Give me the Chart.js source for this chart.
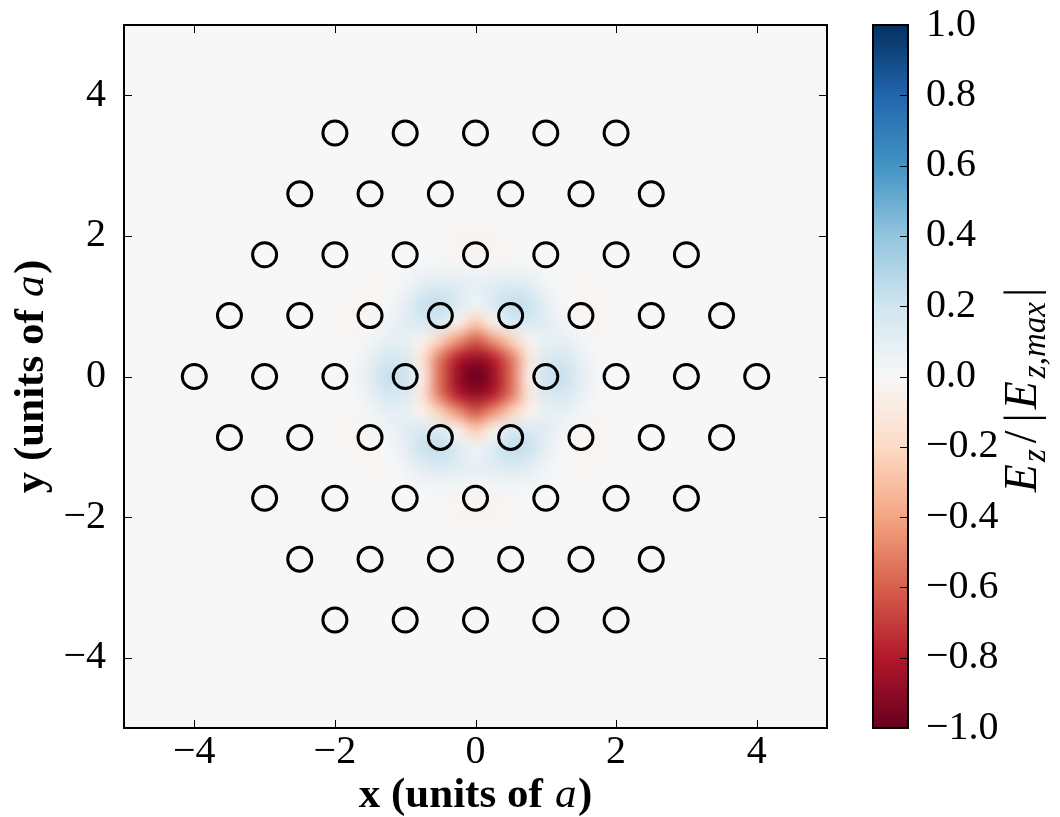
<!DOCTYPE html>
<html>
<head>
<meta charset="utf-8">
<script src="https://cdn.jsdelivr.net/npm/chart.js@4.4.0/dist/chart.umd.min.js"></script>
<style>
  html, body { margin: 0; padding: 0; background: #fff; }
  #wrap { position: relative; width: 1060px; height: 817px; }
  canvas { position: absolute; left: 0; top: 0; }
</style>
</head>
<body>
<div id="wrap">
  <canvas id="field" width="1060" height="817"></canvas>
  <canvas id="cbar" width="1060" height="817"></canvas>
</div>
<script>
// tick labels
const xTicks = [-4, -2, 0, 2, 4];
const yTicks = [-4, -2, 0, 2, 4];
const cbTicks = [-1, -0.8, -0.6, -0.4, -0.2, 0, 0.2, 0.4, 0.6, 0.8, 1];

// air holes of the triangular lattice (one row per y), no hole at the centre (defect)
const holeRowY = [3.464, 2.598, 1.732, 0.866, 0, -0.866, -1.732, -2.598, -3.464];
const holeRowX = [
  [-2, -1, 0, 1, 2],
  [-2.5, -1.5, -0.5, 0.5, 1.5, 2.5],
  [-3, -2, -1, 0, 1, 2, 3],
  [-3.5, -2.5, -1.5, -0.5, 0.5, 1.5, 2.5, 3.5],
  [-4, -3, -2, -1, 1, 2, 3, 4],
  [-3.5, -2.5, -1.5, -0.5, 0.5, 1.5, 2.5, 3.5],
  [-3, -2, -1, 0, 1, 2, 3],
  [-2.5, -1.5, -0.5, 0.5, 1.5, 2.5],
  [-2, -1, 0, 1, 2]
];

// Ez / |Ez,max| sampled every 0.25a, rows from y=2.5 down to y=-2.5
const fieldX = [-2.5, -2.25, -2, -1.75, -1.5, -1.25, -1, -0.75, -0.5, -0.25, 0, 0.25, 0.5, 0.75, 1, 1.25, 1.5, 1.75, 2, 2.25, 2.5];
const fieldY = [2.5, 2.25, 2, 1.75, 1.5, 1.25, 1, 0.75, 0.5, 0.25, 0, -0.25, -0.5, -0.75, -1, -1.25, -1.5, -1.75, -2, -2.25, -2.5];
const fieldZ = [
  [0,0,0,0,0,0,0,0,0,0,0,0,0,0,0,0,0,0,0,0,0],
  [0,0,0,0,0,0,0,0,0,0,-0.01,0,0,0,0,0,0,0,0,0,0],
  [0,0,0,0,0,0,0,0,-0.01,-0.02,-0.02,-0.02,-0.01,0,0,0,0,0,0,0,0],
  [0,0,0,0,0,0,0,0,-0.01,-0.02,-0.02,-0.02,-0.01,0,0,0,0,0,0,0,0],
  [0,0,0,0,-0.01,0,0.01,0.04,0.05,0.04,0.03,0.04,0.05,0.04,0.01,0,-0.01,0,0,0,0],
  [0,0,0,-0.01,-0.02,0,0.05,0.13,0.17,0.13,0.09,0.13,0.17,0.13,0.05,0,-0.02,-0.01,0,0,0],
  [0,0,-0.01,-0.02,-0.02,0.01,0.10,0.22,0.24,0.13,0.04,0.13,0.24,0.22,0.10,0.01,-0.02,-0.02,-0.01,0,0],
  [0,0,-0.01,-0.02,-0.01,0.04,0.11,0.15,0.14,-0.06,-0.27,-0.06,0.14,0.15,0.11,0.04,-0.01,-0.02,-0.01,0,0],
  [0,0,-0.01,-0.01,0.03,0.09,0.09,-0.05,-0.25,-0.46,-0.62,-0.46,-0.25,-0.05,0.09,0.09,0.03,-0.01,-0.01,0,0],
  [0,0,0,0.01,0.08,0.18,0.15,-0.14,-0.54,-0.79,-0.88,-0.79,-0.54,-0.14,0.15,0.18,0.08,0.01,0,0,0],
  [0,0,0,0.02,0.11,0.23,0.21,-0.07,-0.57,-0.87,-1.00,-0.87,-0.57,-0.07,0.21,0.23,0.11,0.02,0,0,0],
  [0,0,0,0.01,0.08,0.18,0.15,-0.14,-0.54,-0.79,-0.88,-0.79,-0.54,-0.14,0.15,0.18,0.08,0.01,0,0,0],
  [0,0,-0.01,-0.01,0.03,0.09,0.09,-0.05,-0.25,-0.46,-0.62,-0.46,-0.25,-0.05,0.09,0.09,0.03,-0.01,-0.01,0,0],
  [0,0,-0.01,-0.02,-0.01,0.04,0.11,0.15,0.14,-0.06,-0.27,-0.06,0.14,0.15,0.11,0.04,-0.01,-0.02,-0.01,0,0],
  [0,0,-0.01,-0.02,-0.02,0.01,0.10,0.22,0.24,0.13,0.04,0.13,0.24,0.22,0.10,0.01,-0.02,-0.02,-0.01,0,0],
  [0,0,0,-0.01,-0.02,0,0.05,0.13,0.17,0.13,0.09,0.13,0.17,0.13,0.05,0,-0.02,-0.01,0,0,0],
  [0,0,0,0,-0.01,0,0.01,0.04,0.05,0.04,0.03,0.04,0.05,0.04,0.01,0,-0.01,0,0,0,0],
  [0,0,0,0,0,0,0,0,-0.01,-0.02,-0.02,-0.02,-0.01,0,0,0,0,0,0,0,0],
  [0,0,0,0,0,0,0,0,-0.01,-0.02,-0.02,-0.02,-0.01,0,0,0,0,0,0,0,0],
  [0,0,0,0,0,0,0,0,0,0,-0.01,0,0,0,0,0,0,0,0,0,0],
  [0,0,0,0,0,0,0,0,0,0,0,0,0,0,0,0,0,0,0,0,0]
];

// RdBu colormap, -1 -> dark red, +1 -> dark blue
const rdbu = ['#67001f', '#b2182b', '#d6604d', '#f4a582', '#fddbc7', '#f7f7f7',
              '#d1e5f0', '#92c5de', '#4393c3', '#2166ac', '#053061'];

const SERIF = '"Liberation Serif", "Times New Roman", serif';

function hexRgb(c) {
  return [parseInt(c.slice(1, 3), 16), parseInt(c.slice(3, 5), 16), parseInt(c.slice(5, 7), 16)];
}
const rdbuRgb = rdbu.map(hexRgb);

function colorFor(v) {
  const t = (Math.max(-1, Math.min(1, v)) + 1) / 2 * 10;
  const i = Math.min(9, Math.floor(t));
  const f = t - i;
  const a = rdbuRgb[i], b = rdbuRgb[i + 1];
  return [0, 1, 2].map(k => Math.round(a[k] + (b[k] - a[k]) * f));
}

function fmt(v) {
  return v < 0 ? '\u2212' + Math.abs(v) : String(v);
}
function fmt1(v) {
  const s = Math.abs(v).toFixed(1);
  return v < -1e-9 ? '\u2212' + s : s;
}

// little field image, one pixel per sample, scaled up smoothly later
const fieldImg = document.createElement('canvas');
fieldImg.width = fieldX.length;
fieldImg.height = fieldY.length;
(function () {
  const c = fieldImg.getContext('2d');
  const img = c.createImageData(fieldX.length, fieldY.length);
  fieldZ.forEach((row, j) => row.forEach((v, i) => {
    const rgb = colorFor(v);
    const p = (j * fieldX.length + i) * 4;
    img.data[p] = rgb[0]; img.data[p + 1] = rgb[1]; img.data[p + 2] = rgb[2]; img.data[p + 3] = 255;
  }));
  c.putImageData(img, 0, 0);
})();

const holes = [];
holeRowY.forEach((y, r) => holeRowX[r].forEach(x => holes.push({ x: x, y: y })));

// parts: [text, font, dy, extra space]
function drawParts(ctx, parts, cx, cy, rot) {
  let total = 0;
  parts.forEach(p => { ctx.font = p[1]; p.w = ctx.measureText(p[0]).width + (p[3] || 0); total += p.w; });
  ctx.save();
  ctx.translate(cx, cy);
  if (rot) ctx.rotate(rot);
  ctx.fillStyle = '#000';
  ctx.textBaseline = 'alphabetic';
  ctx.textAlign = 'left';
  let x = -total / 2;
  parts.forEach(p => { ctx.font = p[1]; ctx.fillText(p[0], x + (p[3] || 0) / 2, p[2] || 0); x += p.w; });
  ctx.restore();
}

const heatmap = {
  id: 'heatmap',
  beforeDatasetsDraw(chart) {
    const { ctx, chartArea: a, scales: { x, y } } = chart;
    const hx = (fieldX[1] - fieldX[0]) / 2, hy = (fieldY[0] - fieldY[1]) / 2;
    const x0 = x.getPixelForValue(fieldX[0] - hx), x1 = x.getPixelForValue(fieldX[fieldX.length - 1] + hx);
    const y0 = y.getPixelForValue(fieldY[0] + hy), y1 = y.getPixelForValue(fieldY[fieldY.length - 1] - hy);
    ctx.save();
    ctx.beginPath();
    ctx.rect(a.left, a.top, a.width, a.height);
    ctx.clip();
    ctx.fillStyle = rdbu[5];
    ctx.fillRect(a.left, a.top, a.width, a.height);
    ctx.imageSmoothingEnabled = true;
    ctx.imageSmoothingQuality = 'high';
    ctx.drawImage(fieldImg, x0, y0, x1 - x0, y1 - y0);
    ctx.restore();
  }
};

const frame = {
  id: 'frame',
  afterDraw(chart) {
    const { ctx, chartArea: a, scales: { x, y } } = chart;
    ctx.save();
    ctx.strokeStyle = '#000';
    ctx.lineWidth = 1;
    ctx.beginPath();
    xTicks.forEach(v => {
      const px = Math.round(x.getPixelForValue(v)) + 0.5;
      ctx.moveTo(px, a.bottom); ctx.lineTo(px, a.bottom - 8);
      ctx.moveTo(px, a.top); ctx.lineTo(px, a.top + 8);
    });
    yTicks.forEach(v => {
      const py = Math.round(y.getPixelForValue(v)) + 0.5;
      ctx.moveTo(a.left, py); ctx.lineTo(a.left + 8, py);
      ctx.moveTo(a.right, py); ctx.lineTo(a.right - 8, py);
    });
    ctx.stroke();
    ctx.lineWidth = 2;
    ctx.strokeRect(a.left, a.top, a.width, a.height);
    ctx.restore();

    const b = 'bold 43px ' + SERIF, it = 'italic 43px ' + SERIF;
    drawParts(ctx, [['x (units of ', b], ['a', it, 0, 3], [')', b]], (a.left + a.right) / 2, 807);
    drawParts(ctx, [['y (units of ', b], ['a', it, 0, 3], [')', b]], 43, (a.top + a.bottom) / 2, -Math.PI / 2);
  }
};

new Chart(document.getElementById('field'), {
  type: 'scatter',
  data: {
    datasets: [{
      data: holes,
      pointRadius: 12,
      pointHoverRadius: 12,
      borderWidth: 3,
      borderColor: '#000',
      backgroundColor: 'rgba(0,0,0,0)'
    }]
  },
  options: {
    responsive: false,
    animation: false,
    events: [],
    layout: { padding: { left: 0, top: 25, right: 233, bottom: 0 } },
    plugins: { legend: { display: false }, tooltip: { enabled: false } },
    scales: {
      x: {
        type: 'linear', min: -5, max: 5,
        grid: { display: false }, border: { display: false },
        afterBuildTicks: s => { s.ticks = xTicks.map(v => ({ value: v })); },
        afterFit: s => { s.height = 89; s.paddingLeft = 0; s.paddingRight = 0; },
        ticks: { callback: fmt, color: '#000', padding: -8, maxRotation: 0, font: { family: SERIF, size: 40 } }
      },
      y: {
        type: 'linear', min: -5, max: 5,
        grid: { display: false }, border: { display: false },
        afterBuildTicks: s => { s.ticks = yTicks.map(v => ({ value: v })); },
        afterFit: s => { s.width = 124; s.paddingTop = 0; s.paddingBottom = 0; },
        ticks: { callback: fmt, color: '#000', padding: 10, font: { family: SERIF, size: 40 } }
      }
    }
  },
  plugins: [heatmap, frame]
});

const colorbar = {
  id: 'colorbar',
  beforeDatasetsDraw(chart) {
    const { ctx, chartArea: a, scales: { y } } = chart;
    const g = ctx.createLinearGradient(0, a.bottom, 0, a.top);
    rdbu.forEach((c, i) => g.addColorStop(i / (rdbu.length - 1), c));
    ctx.save();
    ctx.fillStyle = g;
    ctx.fillRect(a.left, a.top, a.width, a.height);
    ctx.strokeStyle = '#000';
    ctx.lineWidth = 1;
    ctx.beginPath();
    cbTicks.forEach(v => {
      const py = Math.round(y.getPixelForValue(v)) + 0.5;
      ctx.moveTo(a.right, py); ctx.lineTo(a.right - 8, py);
    });
    ctx.stroke();
    ctx.lineWidth = 2;
    ctx.strokeRect(a.left, a.top, a.width, a.height);
    ctx.restore();

    const big = 'italic 46px ' + SERIF, up = '46px ' + SERIF, sub = 'italic 33px ' + SERIF;
    drawParts(ctx, [['E', big, 0, 2], ['z', sub, 9, 2], ['/', up, 0, 10], ['|', up, 0, 6], ['E', big, 0, 2],
      ['z,max', sub, 9, 4], ['|', up, 0, 6]], 1036, 389, -Math.PI / 2);
  }
};

new Chart(document.getElementById('cbar'), {
  type: 'scatter',
  data: { datasets: [{ data: [] }] },
  options: {
    responsive: false,
    animation: false,
    events: [],
    layout: { padding: { left: 873, top: 25, right: 0, bottom: 89 } },
    plugins: { legend: { display: false }, tooltip: { enabled: false } },
    scales: {
      x: { type: 'linear', display: false, min: 0, max: 1 },
      y: {
        type: 'linear', position: 'right', min: -1, max: 1,
        grid: { display: false }, border: { display: false },
        afterBuildTicks: s => { s.ticks = cbTicks.map(v => ({ value: v })); },
        afterFit: s => { s.width = 152; s.paddingTop = 0; s.paddingBottom = 0; },
        ticks: { callback: fmt1, color: '#000', padding: 10, font: { family: SERIF, size: 40 } }
      }
    }
  },
  plugins: [colorbar]
});
</script>
</body>
</html>
